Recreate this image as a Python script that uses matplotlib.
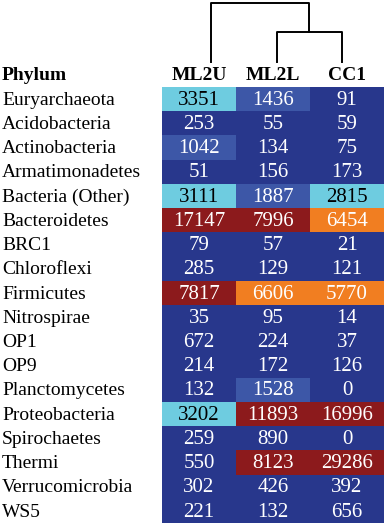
import matplotlib as mpl
from matplotlib import pyplot as plt
from matplotlib.colors import ListedColormap, BoundaryNorm
import numpy as np

mpl.rcParams["font.family"] = ["Liberation Serif", "DejaVu Serif"]

phyla = ["Euryarchaeota", "Acidobacteria", "Actinobacteria", "Armatimonadetes",
         "Bacteria (Other)", "Bacteroidetes", "BRC1", "Chloroflexi", "Firmicutes",
         "Nitrospirae", "OP1", "OP9", "Planctomycetes", "Proteobacteria",
         "Spirochaetes", "Thermi", "Verrucomicrobia", "WS5"]
samples = ["ML2U", "ML2L", "CC1"]
ml2u = [3351, 253, 1042, 51, 3111, 17147, 79, 285, 7817, 35, 672, 214, 132, 3202, 259, 550, 302, 221]
ml2l = [1436, 55, 134, 156, 1887, 7996, 57, 129, 6606, 95, 224, 172, 1528, 11893, 890, 8123, 426, 132]
cc1 = [91, 59, 75, 173, 2815, 6454, 21, 121, 5770, 14, 37, 126, 0, 16996, 0, 29286, 392, 656]

# colour classes
bounds = [0, 1000, 2000, 4000, 7000, 100000]
colors = ["#28378C", "#3D57A7", "#6ECCE0", "#F17E21", "#8C1A1C"]

# dendrogram: leaves ML2U, ML2L, CC1 ; ML2L+CC1 merge first
merge_low = 1.0
merge_root = 2.0

data = np.array([ml2u, ml2l, cc1]).T
cmap = ListedColormap(colors)
norm = BoundaryNorm(bounds, cmap.N)

W, H = 384, 529
fig = plt.figure(figsize=(W / 100, H / 100), dpi=100)

ax = fig.add_axes([162 / W, 1 - 523 / H, 222 / W, 436 / H])
ax.imshow(data, cmap=cmap, norm=norm, aspect="auto", interpolation="nearest")
ax.set_xlim(-0.5, 2.5)
ax.set_ylim(len(phyla) - 0.5, -0.5)
ax.axis("off")

fs = 14
xl = -162 / 74 - 0.5 + 2 / 74
for i in range(len(phyla)):
    for j in range(len(samples)):
        v = data[i, j]
        tc = "black" if 2000 <= v < 4000 else "white"
        ax.text(j, i + 0.05, str(v), ha="center", va="center", fontsize=15, color=tc)
    ax.text(xl, i + 0.05, phyla[i], ha="left", va="center", fontsize=fs, color="black")

for j, s in enumerate(samples):
    ax.text(j, -0.5 - 3 / 24.2, s, ha="center", va="bottom", fontsize=fs,
            fontweight="bold")
ax.text(xl, -0.5 - 3 / 24.2, "Phylum", ha="left", va="bottom",
        fontsize=fs, fontweight="bold")

# dendrogram
dax = fig.add_axes([211 / W, 1 - 62 / H, 131 / W, 59.5 / H])
dax.set_xlim(0, 2)
dax.set_ylim(0, merge_root)
dax.axis("off")
lw = 1.4
mid = 1.5
dax.plot([1, 1, 2, 2], [0, merge_low, merge_low, 0], color="black", lw=lw, clip_on=False)
dax.plot([0, 0, mid, mid], [0, merge_root, merge_root, merge_low], color="black", lw=lw,
         clip_on=False)

plt.savefig("out.png", dpi=100)
